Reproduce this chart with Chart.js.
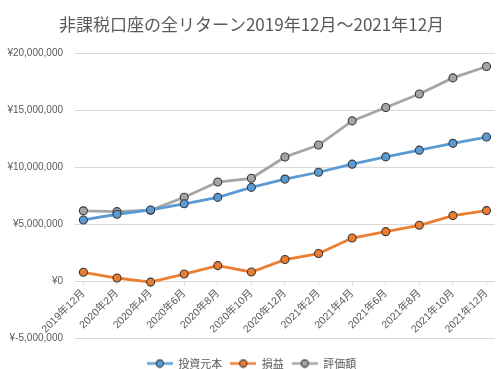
<!DOCTYPE html>
<html><head><meta charset="utf-8">
<script src="https://cdn.jsdelivr.net/npm/chart.js@4"></script>
<style>html,body{margin:0;padding:0;background:#fff;}#wrap{width:500px;height:369px;}</style>
</head><body><div id="wrap"><canvas id="c" width="500" height="369"></canvas></div>
<script>
const categories = ["2019年12月","2020年2月","2020年4月","2020年6月","2020年8月","2020年10月","2020年12月","2021年2月","2021年4月","2021年6月","2021年8月","2021年10月","2021年12月"];
const principal = [5370000,5870000,6250000,6790000,7350000,8230000,8960000,9560000,10270000,10910000,11500000,12100000,12650000];
const profit = [770000,270000,-90000,620000,1360000,800000,1890000,2420000,3780000,4340000,4900000,5750000,6190000];
const valuation = [6170000,6100000,6220000,7370000,8700000,9030000,10900000,11950000,14070000,15250000,16430000,17850000,18850000];
const yTicks = [-5000000,0,5000000,10000000,15000000,20000000];
const seriesNames = ["投資元本","損益","評価額"];
const seriesColors = ["#5B9BD5","#ED7D31","#A5A5A5"];
const titleText = "非課税口座の全リターン2019年12月～2021年12月";

const FONT = "'Liberation Sans','Noto Sans CJK JP',sans-serif";
const TXT = "#595959";
const MARK_BORDER = "#3a3a3a";

function legendIcon(color){
  const cv = document.createElement('canvas');
  cv.width = 26; cv.height = 10;
  const g = cv.getContext('2d');
  g.strokeStyle = color; g.lineWidth = 2.5; g.lineCap='butt';
  g.beginPath(); g.moveTo(0,5); g.lineTo(26,5); g.stroke();
  g.beginPath(); g.arc(13,5,3.6,0,Math.PI*2);
  g.fillStyle = color; g.fill();
  g.lineWidth = 1.1; g.strokeStyle = MARK_BORDER; g.stroke();
  return cv;
}
const icons = seriesColors.map(legendIcon);

const allSeries = [principal, profit, valuation];
const datasets = allSeries.map((vals, k) => ({
  label: seriesNames[k],
  data: vals.map((v,i)=>({x:i,y:v})),
  borderColor: seriesColors[k],
  backgroundColor: seriesColors[k],
  borderWidth: 2.8,
  pointRadius: 4,
  pointBorderWidth: 1.1,
  pointBorderColor: MARK_BORDER,
  pointBackgroundColor: seriesColors[k],
  tension: 0
}));

new Chart(document.getElementById('c'), {
  type: 'line',
  data: { datasets },
  options: {
    responsive: false,
    animation: false,
    layout: { padding: { left: 6, right: 3, top: 0, bottom: -10 } },
    plugins: {
      title: {
        display: true, text: titleText, color: TXT,
        font: { family: "'Noto Sans CJK JP',sans-serif", size: 17, weight: 'normal' },
        padding: { top: 14, bottom: 19 }
      },
      legend: {
        position: 'bottom',
        title: { display: true, text: ' ', font: { size: 10 }, padding: 0 },
        labels: {
          color: TXT,
          font: { family: "'Noto Sans CJK JP',sans-serif", size: 11 },
          usePointStyle: true,
          pointStyleWidth: 26,
          padding: 8,
          generateLabels(chart){
            return chart.data.datasets.map((d,i)=>({
              text: d.label, pointStyle: icons[i], fontColor: TXT,
              strokeStyle: d.borderColor, fillStyle: d.backgroundColor, lineWidth: 0, datasetIndex: i, hidden: false
            }));
          }
        }
      },
      tooltip: { enabled: false }
    },
    scales: {
      x: {
        type: 'linear',
        position: { y: 0 },
        min: -0.25, max: 12.25,
        grid: { drawOnChartArea: false, drawTicks: true, tickLength: 3, color: '#d9d9d9' },
        border: { display: true, color: '#d9d9d9', width: 1 },
        ticks: {
          stepSize: 1, includeBounds: false, autoSkip: false,
          minRotation: 45, maxRotation: 45,
          color: TXT, font: { family: FONT, size: 10.5 },
          padding: 3,
          callback: (v) => (Number.isInteger(v) && categories[v] !== undefined) ? categories[v] : ''
        }
      },
      y: {
        min: yTicks[0], max: yTicks[yTicks.length-1],
        afterBuildTicks: (s) => { s.ticks = yTicks.map(v=>({value:v})); },
        afterFit: (s) => { s.width = 69; },
        grid: { color: '#d9d9d9', lineWidth: 1, drawTicks: false },
        border: { display: false },
        ticks: {
          color: TXT, font: { family: FONT, size: 10 }, padding: 12,
          callback: (v) => '¥' + Number(v).toLocaleString('en-US')
        }
      }
    }
  }
});
</script></body></html>
